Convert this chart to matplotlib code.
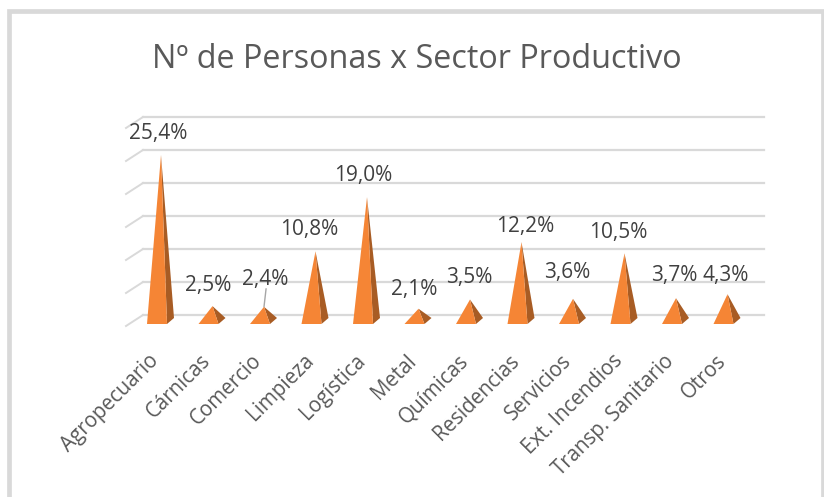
import matplotlib
matplotlib.use('Agg')
import matplotlib.pyplot as plt
from matplotlib.patches import Polygon, Rectangle

plt.rcParams['font.family'] = ['Open Sans', 'DejaVu Sans']

sectores = ['Agropecuario', 'Cárnicas', 'Comercio', 'Limpieza', 'Logística', 'Metal',
            'Químicas', 'Residencias', 'Servicios', 'Ext. Incendios', 'Transp. Sanitario', 'Otros']
valores = [25.4, 2.5, 2.4, 10.8, 19.0, 2.1, 3.5, 12.2, 3.6, 10.5, 3.7, 4.3]
etiquetas = ['25,4%', '2,5%', '2,4%', '10,8%', '19,0%', '2,1%', '3,5%', '12,2%', '3,6%', '10,5%', '3,7%', '4,3%']
rejilla = [0, 5, 10, 15, 20, 25, 30]

# desplazamiento de cada etiqueta respecto a la punta (px)
offset_etiquetas = [(-3, 21.5), (-4, 20.5), (1, 27.5), (-6, 21.5), (-4, 21.5), (-4, 19.5), (-1, 22.5), (4, 15.5), (-6, 26.5), (-6, 20.5), (-2, 22.5), (-2, 18.5)]

W, H = 824, 497
fig = plt.figure(figsize=(W / 100, H / 100), dpi=100, facecolor='white')

# marco exterior gris
fig.add_artist(Rectangle((8.5 / W, -0.1), (823 - 8.5) / W, 1.1 - 11 / H, transform=fig.transFigure,
                         fill=False, edgecolor='#D9D9D9', linewidth=3.4))

fig.text(416.5 / W, 1 - 60 / H, 'Nº de Personas x Sector Productivo', ha='center', va='center',
         fontsize=23.3, color='#595959')

# ejes ajustados a la zona de la rejilla
ax = fig.add_axes([143 / W, 1 - 315 / H, (764 - 143) / W, (315 - 117) / H])
ax.set_xlim(-18 / 51.5, 603 / 51.5)
ax.set_ylim(0, 30)
ax.axis('off')

px_x = 1 / 51.5
px_y = 30 / 198

for g in rejilla:
    ax.plot([-18 * px_x, 603 * px_x], [g, g], color='#D9D9D9', lw=1.6, zorder=1, clip_on=False)
    ax.plot([-35 * px_x, -18 * px_x], [g - 11 * px_y, g], color='#D9D9D9', lw=1.4, zorder=1, clip_on=False)

for i, v in enumerate(valores):
    punta = (i, v - 7.6 * px_y)
    frente_izq = (i - 14 * px_x, -9 * px_y)
    frente_der = (i + 6 * px_x, -9 * px_y)
    esquina = (i + 13 * px_x, -3 * px_y)
    ax.add_patch(Polygon([frente_der, esquina, punta], closed=True, facecolor='#A85C24',
                         edgecolor='none', zorder=3, clip_on=False))
    ax.add_patch(Polygon([frente_izq, frente_der, punta], closed=True, facecolor='#F58535',
                         edgecolor='none', zorder=4, clip_on=False))
    dx, dy = offset_etiquetas[i]
    ax.annotate(etiquetas[i], punta, xytext=(dx * 0.72, dy * 0.72), textcoords='offset points',
                ha='center', va='center', fontsize=15, color='#404040', zorder=5, annotation_clip=False)
    ax.annotate(sectores[i], (i, -9 * px_y), xytext=(-9, -19), textcoords='offset points',
                ha='right', va='top', rotation=45, rotation_mode='anchor', fontsize=14.8,
                color='#595959', annotation_clip=False)

# linea guia de la etiqueta 2,4%
ax.annotate('', (2, valores[2] - 7.6 * px_y), xytext=(1.5, 13), textcoords='offset points',
            arrowprops=dict(arrowstyle='-', color='#A6A6A6', lw=1, shrinkA=0, shrinkB=0), annotation_clip=False)

fig.savefig('out.png', dpi=100)
